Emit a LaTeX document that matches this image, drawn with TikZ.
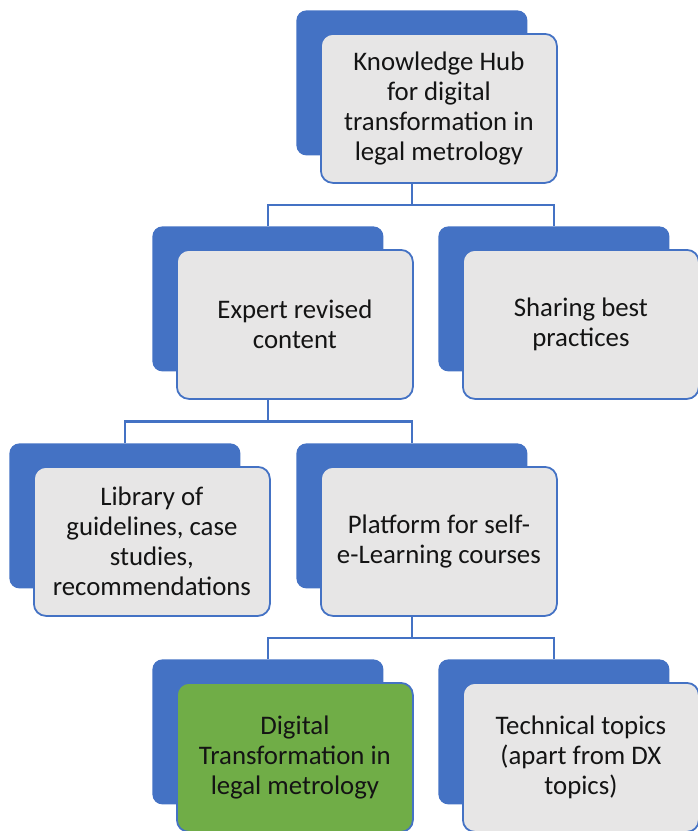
\documentclass[tikz,border=0pt]{standalone}
\usepackage{fontspec}
\setmainfont{Carlito}
\usepackage{xcolor}
\usepackage{tikz}
\usetikzlibrary{calc}

\definecolor{hubblue}{HTML}{4472C4}
\definecolor{boxgray}{HTML}{E7E6E6}
\definecolor{dxgreen}{HTML}{70AD47}
\definecolor{boxtext}{HTML}{141414}

\begin{document}
\begin{tikzpicture}[x=0.5pt,y=-0.5pt,
    back/.style={fill=hubblue,rounded corners=5pt,inner sep=0pt,
        minimum width=115.5pt,minimum height=72.5pt,anchor=north west},
    front/.style={draw=hubblue,line width=0.9pt,fill=boxgray,rounded corners=6pt,
        minimum width=118pt,minimum height=74.5pt,anchor=north west,
        align=center,text=boxtext,font=\fontsize{13.4}{15}\selectfont},
    link/.style={draw=hubblue,line width=1.2pt}]
    \useasboundingbox (0,0) rectangle (697,831);

    % back plates
    \node[back] (hubback) at (296,10) {};
    \node[back] (expertback) at (152,226) {};
    \node[back] (shareback) at (438,226) {};
    \node[back] (libback) at (9,443) {};
    \node[back] (platback) at (296,443) {};
    \node[back] (dxback) at (152,659) {};
    \node[back] (techback) at (438,659) {};

    % front boxes
    \node[front] (hub) at ([shift={(24,23)}]hubback.north west)
        {Knowledge Hub\\for digital\\transformation in\\legal metrology};
    \node[front] (expert) at ([shift={(24,23)}]expertback.north west)
        {Expert revised\\content};
    \node[front] (share) at ([shift={(24,23)}]shareback.north west)
        {Sharing best\\practices};
    \node[front] (lib) at ([shift={(24,23)}]libback.north west)
        {Library of\\guidelines, case\\studies,\\recommendations};
    \node[front] (plat) at ([shift={(24,23)}]platback.north west)
        {Platform for self-\\e-Learning courses};
    \node[front,fill=dxgreen] (dx) at ([shift={(24,23)}]dxback.north west)
        {Digital\\Transformation in\\legal metrology};
    \node[front] (tech) at ([shift={(24,23)}]techback.north west)
        {Technical topics\\(apart from DX\\topics)};

    % connectors
    \coordinate (bus1) at ($(hub.south)!.5!(expertback.north)$);
    \coordinate (bus2) at ($(expert.south)!.5!(libback.north)$);
    \coordinate (bus3) at ($(plat.south)!.5!(dxback.north)$);
    \draw[link] (hubback |- hub.south) -- (hubback |- bus1) -| (expertback.north);
    \draw[link] (hubback |- bus1) -| (shareback.north);
    \draw[link] (expertback |- expert.south) -- (expertback |- bus2) -| (libback.north);
    \draw[link] (expertback |- bus2) -| (platback.north);
    \draw[link] (platback |- plat.south) -- (platback |- bus3) -| (dxback.north);
    \draw[link] (platback |- bus3) -| (techback.north);
\end{tikzpicture}
\end{document}
